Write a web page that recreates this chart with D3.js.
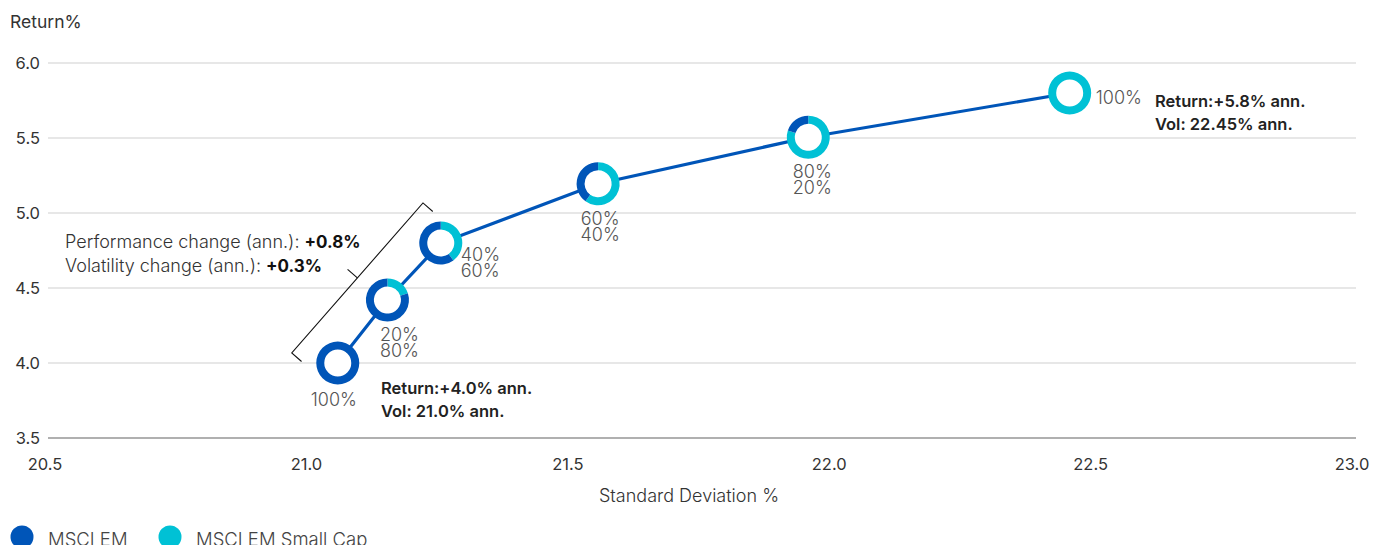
<!DOCTYPE html>
<html>
<head>
<meta charset="utf-8">
<script src="https://cdn.jsdelivr.net/npm/d3@7"></script>
<style>
  body { margin: 0; background: #fff; overflow: hidden; }
  svg { display: block; font-family: Inter, 'Noto Sans', sans-serif; }
</style>
</head>
<body>
<div id="chart"></div>
<script>
// Portfolio mixes: MSCI EM vs MSCI EM Small Cap
const stdDev = [21.06, 21.155, 21.257, 21.558, 21.96, 22.46];
const returns = [4.0, 4.42, 4.8, 5.195, 5.505, 5.8];
const emWeight = [100, 80, 60, 40, 20, 0];
const smallCapWeight = [0, 20, 40, 60, 80, 100];
const pointLabels = [['100%'], ['20%', '80%'], ['40%', '60%'], ['60%', '40%'], ['80%', '20%'], ['100%']];

const xTicks = [20.5, 21.0, 21.5, 22.0, 22.5, 23.0];
const yTicks = [3.5, 4.0, 4.5, 5.0, 5.5, 6.0];

const seriesNames = ['MSCI EM', 'MSCI EM Small Cap'];
const colors = { em: '#0055b8', small: '#00c1d5' };

// label offsets relative to each point (dx, dy, anchor)
const labelLayout = [
  { dx: -4, dy: 43, anchor: 'middle' },
  { dx: 12, dy: 41, anchor: 'middle' },
  { dx: 20, dy: 18, anchor: 'start' },
  { dx: 2, dy: 41, anchor: 'middle' },
  { dx: 4, dy: 41, anchor: 'middle' },
  { dx: 26, dy: 11, anchor: 'start' },
];

const width = 1373;
const height = 545;

const svg = d3
  .select('#chart')
  .append('svg')
  .attr('width', width)
  .attr('height', height);

const x = d3.scaleLinear().domain([20.5, 23.0]).range([45, 1352]);
const y = d3.scaleLinear().domain([3.5, 6.0]).range([438, 63]);

// Grid lines
svg
  .append('g')
  .selectAll('line')
  .data(yTicks)
  .enter()
  .append('line')
  .attr('x1', 48)
  .attr('x2', 1356)
  .attr('y1', (d) => y(d))
  .attr('y2', (d) => y(d))
  .attr('stroke', (d) => (d === 3.5 ? '#b0b0b0' : '#cfcfcf'))
  .attr('stroke-width', (d) => (d === 3.5 ? 2 : 1.2));

// Y axis labels
svg
  .append('g')
  .selectAll('text')
  .data(yTicks)
  .enter()
  .append('text')
  .attr('x', 40)
  .attr('y', (d) => y(d))
  .attr('dy', '0.35em')
  .attr('text-anchor', 'end')
  .attr('font-size', 16.5)
  .attr('fill', '#333')
  .text((d) => d.toFixed(1));

// X axis labels
svg
  .append('g')
  .selectAll('text')
  .data(xTicks)
  .enter()
  .append('text')
  .attr('x', (d) => x(d))
  .attr('y', 470)
  .attr('text-anchor', 'middle')
  .attr('font-size', 16.5)
  .attr('fill', '#333')
  .text((d) => d.toFixed(1));

// Axis titles
svg.append('text')
  .attr('x', 10).attr('y', 28)
  .attr('font-size', 17.5).attr('fill', '#333')
  .text('Return%');

svg.append('text')
  .attr('x', 689).attr('y', 502)
  .attr('text-anchor', 'middle')
  .attr('font-size', 18).attr('font-weight', 300).attr('fill', '#333')
  .text('Standard Deviation %');

const points = stdDev.map((s, i) => ({
  sd: s,
  ret: returns[i],
  em: emWeight[i],
  small: smallCapWeight[i],
  label: pointLabels[i],
  layout: labelLayout[i],
}));

// Line
const line = d3.line().x((d) => x(d.sd)).y((d) => y(d.ret));
svg.append('path')
  .datum(points)
  .attr('d', line)
  .attr('fill', 'none')
  .attr('stroke', colors.em)
  .attr('stroke-width', 3.2);

// Bracket for the first three points
const bx0 = x(20.972), by0 = y(4.067);
const bx1 = x(21.223), by1 = y(5.067);
const ang = Math.atan2(by1 - by0, bx1 - bx0);
const nx = Math.cos(ang + Math.PI / 2), ny = Math.sin(ang + Math.PI / 2);
const tick = 13;
const bracket = svg.append('g').attr('stroke', '#111').attr('stroke-width', 1.1).attr('fill', 'none');
bracket.append('path').attr('d',
  `M${bx0 + nx * tick},${by0 + ny * tick}L${bx0},${by0}L${bx1},${by1}L${bx1 + nx * tick},${by1 + ny * tick}`);
const mx = bx0 + (bx1 - bx0) * 0.5, my = by0 + (by1 - by0) * 0.5;
bracket.append('path').attr('d', `M${mx},${my}L${mx - nx * tick},${my - ny * tick}`);

// Donuts
const pie = d3.pie().sort(null).value((d) => d.v);
const arc = d3.arc().innerRadius(13.5).outerRadius(21.5);

const donuts = svg
  .selectAll('.donut')
  .data(points)
  .enter()
  .append('g')
  .attr('class', 'donut')
  .attr('transform', (d) => `translate(${x(d.sd)},${y(d.ret)})`);

donuts.append('circle').attr('r', 14).attr('fill', '#fff');

donuts
  .selectAll('path')
  .data((d) => pie([{ k: 'small', v: d.small }, { k: 'em', v: d.em }]))
  .enter()
  .append('path')
  .attr('d', arc)
  .attr('fill', (d) => colors[d.data.k]);

// Point labels
donuts.each(function (d) {
  const t = d3.select(this)
    .append('text')
    .attr('text-anchor', d.layout.anchor)
    .attr('font-size', 18)
    .attr('font-weight', 300)
    .attr('fill', '#555');
  d.label.forEach((l, j) => {
    t.append('tspan')
      .attr('x', d.layout.dx)
      .attr('y', d.layout.dy + j * 16)
      .text(l);
  });
});

// Annotations
function bold(xp, yp, lines) {
  const t = svg.append('text').attr('font-size', 16.5).attr('font-weight', 600).attr('fill', '#222');
  lines.forEach((l, j) => t.append('tspan').attr('x', xp).attr('y', yp + j * 23).text(l));
}
bold(381, 394, ['Return:+4.0% ann.', 'Vol: 21.0% ann.']);
bold(1155, 107, ['Return:+5.8% ann.', 'Vol: 22.45% ann.']);

const change = svg.append('g').attr('font-size', 18).attr('fill', '#333');
[['Performance change (ann.): ', '+0.8%'], ['Volatility change (ann.): ', '+0.3%']].forEach((p, j) => {
  const t = change.append('text').attr('x', 65).attr('y', 248 + j * 24);
  t.append('tspan').attr('font-weight', 300).text(p[0]);
  t.append('tspan').attr('font-weight', 700).attr('fill', '#111').attr('font-size', 17).text(p[1]);
});

// Legend
const legend = svg
  .selectAll('.legend')
  .data(seriesNames)
  .enter()
  .append('g')
  .attr('class', 'legend')
  .attr('transform', (d, i) => `translate(${22 + i * 148},537)`);

legend.append('circle').attr('r', 11.5).attr('fill', (d, i) => (i === 0 ? colors.em : colors.small));
legend.append('text')
  .attr('x', 26)
  .attr('y', 9)
  .attr('font-size', 18.5)
  .attr('font-weight', 300)
  .attr('fill', '#444')
  .text((d) => d);
</script>
</body>
</html>
